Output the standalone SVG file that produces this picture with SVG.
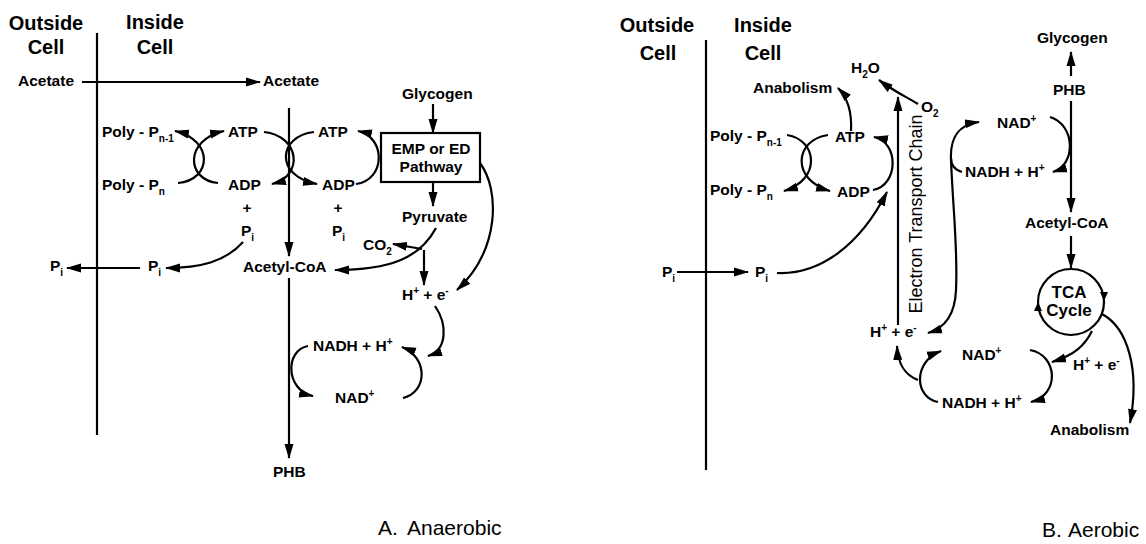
<svg xmlns="http://www.w3.org/2000/svg" width="1146" height="544" viewBox="0 0 1146 544">
<style>
.t{font-family:"Liberation Sans",Arial,Helvetica,sans-serif;font-weight:bold;font-size:15.5px;fill:#000}
.h{font-size:20px}
.c{font-size:17px}
.lab{font-family:"Liberation Sans",Arial,Helvetica,sans-serif;font-weight:normal;font-size:21px;fill:#000}
.etc{font-family:"Liberation Sans",Arial,Helvetica,sans-serif;font-weight:normal;font-size:18px;fill:#000}
.s{font-size:10px}
.ln{fill:none;stroke:#000;stroke-width:2.2}
.m{marker-end:url(#ah)}
.ms{marker-start:url(#ahs)}
</style>
<defs>
<marker id="ah" viewBox="0 0 15 10" refX="14" refY="5" markerWidth="15" markerHeight="10" orient="auto" markerUnits="userSpaceOnUse"><path d="M0,0.5 L15,5 L0,9.5 z" fill="#000"/></marker>
<marker id="ahs" viewBox="0 0 15 10" refX="14" refY="5" markerWidth="15" markerHeight="10" orient="auto-start-reverse" markerUnits="userSpaceOnUse"><path d="M0,0.5 L15,5 L0,9.5 z" fill="#000"/></marker>
</defs>
<rect width="1146" height="544" fill="#fff"/>

<g id="connectors">
<!-- Panel A -->
<path class="ln" d="M97,33 V435"/>
<path class="ln m" d="M82,82 H260"/>
<path class="ln m" d="M289,108 V256"/>
<path class="ln m" d="M289,278 V458"/>
<path class="ln m" d="M178,183 C212,180 214,140 175,131"/>
<path class="ln m" d="M218,183 C186,180 184,140 224,131"/>
<path class="ln m" d="M264,132 C300,136 304,176 272,184"/>
<path class="ln m" d="M314,132 C278,136 274,176 317,184"/>
<path class="ln m" d="M356,184 C386,180 386,137 358,131"/>
<path class="ln m" d="M433,104 V133"/>
<path class="ln m" d="M433,182 V206"/>
<path class="ln m" d="M436,228 C420,258 390,270 335,270"/>
<path class="ln m" d="M422,249 L393,244"/>
<path class="ln m" d="M424,250 V285"/>
<path class="ln m" d="M480,163 C500,190 500,250 457,290"/>
<path class="ln m" d="M435,306 C448,325 447,350 428,356"/>
<path class="ln m" d="M403,398 C428,392 428,357 402,347"/>
<path class="ln m" d="M308,346 C285,350 285,390 313,396"/>
<path class="ln m" d="M243,242 C225,262 200,268 166,268"/>
<path class="ln m" d="M140,268 H67"/>
<!-- Panel B -->
<path class="ln" d="M706,40 V470"/>
<path class="ln m" d="M677,272 H748"/>
<path class="ln m" d="M777,273 C820,275 860,245 887,192"/>
<path class="ln m" d="M787,135 C818,140 821,180 784,191"/>
<path class="ln m" d="M828,135 C794,140 791,180 830,191"/>
<path class="ln m" d="M873,190 C899,185 899,142 874,137"/>
<path class="ln m" d="M851,131 C852,112 848,98 838,88"/>
<path class="ln m" d="M898,325 V97"/>
<path class="ln m" d="M918,104 C905,96 895,92 879,80"/>
<path class="ln m" d="M1050,117 C1076,125 1076,165 1053,172"/>
<path class="ln ms m" d="M979,122 C956,125 950,140 951,160 C953,210 958,250 956,290 C955,315 945,328 928,333"/>
<path class="ln" d="M962,172 C955,170 951,165 951,158"/>
<path class="ln m" d="M1071,76 V52"/>
<path class="ln m" d="M1071,101 V212"/>
<path class="ln m" d="M1071,236 V268"/>
<path class="ln m" d="M1092,331 C1085,345 1075,355 1052,362"/>
<path class="ln m" d="M1030,350 C1058,355 1060,395 1031,402"/>
<path class="ln m" d="M1102,314 C1128,328 1140,370 1130,423"/>
<path class="ln m" d="M938,402 C915,398 912,362 941,351"/>
<path class="ln m" d="M918,380 C905,375 898,365 897,346"/>
</g>

<g id="A-outside"><text class="t h" x="46" y="30" text-anchor="middle">Outside</text><text class="t h" x="46" y="54" text-anchor="middle">Cell</text></g>
<g id="A-inside"><text class="t h" x="155" y="29" text-anchor="middle">Inside</text><text class="t h" x="155" y="54" text-anchor="middle">Cell</text></g>
<g id="A-acetate-out"><text class="t" x="18" y="86">Acetate</text></g>
<g id="A-acetate-in"><text class="t" x="263" y="86">Acetate</text></g>
<g id="A-polyp-n1"><text class="t" x="102" y="137">Poly - P<tspan class="s" dy="5">n-1</tspan></text></g>
<g id="A-polyp-n"><text class="t" x="102" y="190">Poly - P<tspan class="s" dy="5">n</tspan></text></g>
<g id="A-atp1"><text class="t" x="228" y="137">ATP</text></g>
<g id="A-adp1"><text class="t" x="228" y="190">ADP</text></g>
<g id="A-plus1"><text class="t" x="247" y="213" text-anchor="middle">+</text></g>
<g id="A-pi1"><text class="t" x="241" y="236">P<tspan class="s" dy="5">i</tspan></text></g>
<g id="A-atp2"><text class="t" x="318" y="137">ATP</text></g>
<g id="A-adp2"><text class="t" x="322" y="190">ADP</text></g>
<g id="A-plus2"><text class="t" x="338" y="213" text-anchor="middle">+</text></g>
<g id="A-pi2"><text class="t" x="332" y="236">P<tspan class="s" dy="5">i</tspan></text></g>
<g id="A-acetylcoa"><text class="t" x="243" y="272">Acetyl-CoA</text></g>
<g id="A-pi-mid"><text class="t" x="148" y="271">P<tspan class="s" dy="5">i</tspan></text></g>
<g id="A-pi-out"><text class="t" x="50" y="271">P<tspan class="s" dy="5">i</tspan></text></g>
<g id="A-glycogen"><text class="t" x="402" y="99">Glycogen</text></g>
<g id="A-emp"><rect x="381" y="133" width="99" height="49" fill="#fff" stroke="#000" stroke-width="2.2"/><text class="t" x="431" y="154" text-anchor="middle">EMP or ED</text><text class="t" x="431" y="172" text-anchor="middle">Pathway</text></g>
<g id="A-pyruvate"><text class="t" x="402" y="222">Pyruvate</text></g>
<g id="A-co2"><text class="t" x="363" y="250">CO<tspan class="s" dy="5">2</tspan></text></g>
<g id="A-he"><text class="t" x="402" y="300">H<tspan class="s" dy="-6">+</tspan><tspan dy="6"> + e</tspan><tspan class="s" dy="-6">-</tspan></text></g>
<g id="A-nadh"><text class="t" x="313" y="351">NADH + H<tspan class="s" dy="-6">+</tspan></text></g>
<g id="A-nad"><text class="t" x="335" y="403">NAD<tspan class="s" dy="-6">+</tspan></text></g>
<g id="A-phb"><text class="t" x="273" y="477">PHB</text></g>
<g id="A-label"><text class="lab" x="378" y="535">A.<tspan x="407">Anaerobic</tspan></text></g>

<g id="B-outside"><text class="t h" x="657" y="32" text-anchor="middle">Outside</text><text class="t h" x="658" y="60" text-anchor="middle">Cell</text></g>
<g id="B-inside"><text class="t h" x="763" y="32" text-anchor="middle">Inside</text><text class="t h" x="763" y="60" text-anchor="middle">Cell</text></g>
<g id="B-pi-out"><text class="t" x="662" y="277">P<tspan class="s" dy="5">i</tspan></text></g>
<g id="B-pi-in"><text class="t" x="755" y="277">P<tspan class="s" dy="5">i</tspan></text></g>
<g id="B-polyp-n1"><text class="t" x="710" y="141">Poly - P<tspan class="s" dy="5">n-1</tspan></text></g>
<g id="B-polyp-n"><text class="t" x="710" y="195">Poly - P<tspan class="s" dy="5">n</tspan></text></g>
<g id="B-atp"><text class="t" x="835" y="142">ATP</text></g>
<g id="B-adp"><text class="t" x="837" y="197">ADP</text></g>
<g id="B-anabolism1"><text class="t" x="753" y="93">Anabolism</text></g>
<g id="B-h2o"><text class="t" x="851" y="73">H<tspan class="s" dy="5">2</tspan><tspan dy="-5">O</tspan></text></g>
<g id="B-o2"><text class="t" x="921" y="112">O<tspan class="s" dy="5">2</tspan></text></g>
<g id="B-etc"><text class="etc" transform="translate(922,214) rotate(-90)" text-anchor="middle">Electron Transport Chain</text></g>
<g id="B-glycogen"><text class="t" x="1037" y="43">Glycogen</text></g>
<g id="B-phb"><text class="t" x="1053" y="95">PHB</text></g>
<g id="B-nad1"><text class="t" x="997" y="128">NAD<tspan class="s" dy="-6">+</tspan></text></g>
<g id="B-nadh1"><text class="t" x="965" y="177">NADH + H<tspan class="s" dy="-6">+</tspan></text></g>
<g id="B-acetylcoa"><text class="t" x="1025" y="228">Acetyl-CoA</text></g>
<g id="B-tca"><circle cx="1071" cy="302" r="33" fill="none" stroke="#000" stroke-width="2.2"/><polygon points="1034,311 1042,311 1038,302" fill="#000"/><polygon points="1100,292 1108,292 1104,301" fill="#000"/><text class="t c" x="1069" y="298" text-anchor="middle">TCA</text><text class="t c" x="1069" y="316" text-anchor="middle">Cycle</text></g>
<g id="B-he1"><text class="t" x="870" y="337">H<tspan class="s" dy="-6">+</tspan><tspan dy="6"> + e</tspan><tspan class="s" dy="-6">-</tspan></text></g>
<g id="B-nad2"><text class="t" x="962" y="360">NAD<tspan class="s" dy="-6">+</tspan></text></g>
<g id="B-nadh2"><text class="t" x="942" y="408">NADH + H<tspan class="s" dy="-6">+</tspan></text></g>
<g id="B-he2"><text class="t" x="1073" y="370">H<tspan class="s" dy="-6">+</tspan><tspan dy="6"> + e</tspan><tspan class="s" dy="-6">-</tspan></text></g>
<g id="B-anabolism2"><text class="t" x="1050" y="435">Anabolism</text></g>
<g id="B-label"><text class="lab" x="1042" y="537">B.<tspan x="1068">Aerobic</tspan></text></g>
</svg>
